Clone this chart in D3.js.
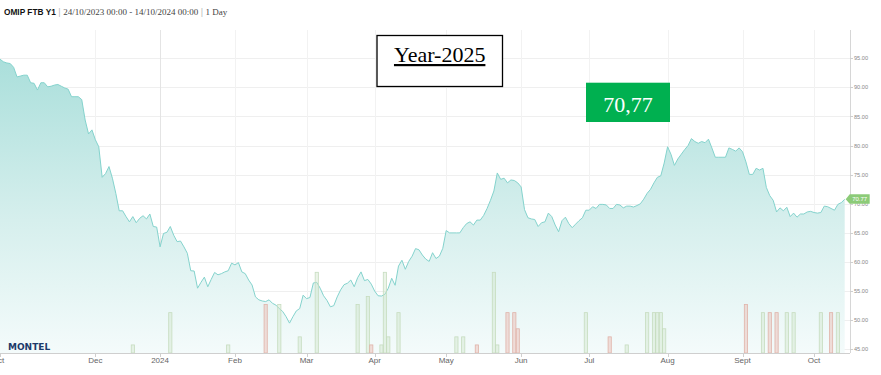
<!DOCTYPE html>
<html><head><meta charset="utf-8">
<script src="https://cdn.jsdelivr.net/npm/d3@7"></script>
<style>
html,body{margin:0;padding:0;background:#fff;}
svg{display:block;}
</style></head>
<body>
<svg id="chart" width="881" height="375"></svg>
<script>
// ---------------- DATA ----------------
const titleBold = "OMIP FTB Y1";
const titleRest = ["24/10/2023 00:00 - 14/10/2024 00:00", "1 Day"];
const startDate = "2023-10-24";
const endDate = "2024-10-14";
const holidays = ["2023-12-25","2023-12-26","2024-01-01","2024-03-29","2024-04-25","2024-05-01"];

// daily settlement prices, one per trading day
const prices = [
 94.85,94.4,94.2,94.1,93.45,91.8,91.95,92.1,92.1,90.8,
 90.7,89.55,90.8,90.8,90.1,90.2,90.4,90.5,90.2,89.9,
 89.7,88.4,88.4,88.4,87.9,84.4,82.0,82.7,81.0,79.8,
 74.55,75.2,76.4,74.4,71.8,68.8,68.8,67.8,66.9,67.8,
 66.75,67.5,67.95,67.4,68.25,66.1,66.0,62.6,64.9,65.1,
 66.1,64.6,63.5,63.6,62.6,61.5,58.5,58.45,55.5,56.5,
 57.4,55.75,57.0,58.2,57.8,58.0,58.3,58.5,59.8,59.5,
 59.9,58.3,58.0,56.9,56.05,54.0,53.5,53.3,53.2,53.5,
 52.9,52.6,52.0,51.5,50.6,49.5,50.6,51.6,52.0,54.3,
 53.7,53.9,56.4,56.5,55.5,54.2,53.4,52.3,52.5,54.0,
 55.2,56.1,56.35,56.9,55.75,57.3,58.3,56.8,57.0,56.2,
 55.0,54.2,54.15,54.45,55.5,57.2,56.0,59.3,60.3,58.75,
 60.1,61.0,62.3,62.1,61.2,60.5,60.1,61.6,60.6,61.0,
 62.35,65.4,65.0,65.0,65.0,65.0,65.9,66.6,66.9,66.35,
 67.2,67.2,68.0,69.2,70.6,72.2,75.3,74.2,74.4,73.6,
 74.1,74.0,73.6,72.9,69.0,67.6,67.4,67.3,66.1,66.75,
 66.9,68.4,67.8,66.35,65.2,67.1,67.7,66.6,65.9,66.5,
 67.1,67.6,68.9,68.9,69.5,69.2,69.9,69.9,69.8,69.2,
 69.2,69.9,69.8,69.3,69.6,69.6,69.45,69.7,70.0,70.8,
 71.8,72.5,73.6,74.55,74.8,77.0,79.8,78.5,76.6,77.7,
 78.5,79.3,80.0,81.2,80.7,80.4,80.7,80.5,81.1,79.6,
 78.0,78.0,78.0,78.0,79.6,79.35,79.05,79.6,78.95,77.2,
 75.05,75.05,76.1,75.8,76.1,72.8,71.4,70.6,68.6,69.3,
 68.8,69.4,67.8,68.4,67.7,68.25,68.25,68.6,68.7,68.5,
 68.4,68.5,69.6,69.5,69.2,68.9,69.9,70.2,70.77
];

// traded volume bars
const volDates = ["2023-12-18","2024-01-05","2024-01-30","2024-02-14","2024-02-20","2024-02-28","2024-03-06",
 "2024-03-22","2024-03-27","2024-03-28","2024-04-03","2024-04-04","2024-04-05","2024-04-10",
 "2024-05-07","2024-05-09","2024-05-15","2024-05-22","2024-05-23","2024-05-28","2024-05-30","2024-05-31",
 "2024-06-28","2024-07-09","2024-07-16","2024-07-24","2024-07-26","2024-07-29","2024-07-30","2024-07-31",
 "2024-09-03","2024-09-10","2024-09-12","2024-09-16","2024-09-19","2024-09-23","2024-10-03","2024-10-08","2024-10-10"];
const volValues = [1,5,1,6,6,2,10, 6,7,1,1,10,2,5, 2,2,1,10,1,5,5,3, 5,2,1,5,5,5,5,3, 6,5,5,5,5,5,5,5,5];
const volSide = ["up","up","up","down","up","up","up", "up","up","down","up","up","up","up",
 "up","up","down","up","up","down","down","down", "up","down","up","up","up","up","up","up",
 "down","up","down","down","up","up","up","down","up"];

const yTicks = [45,50,55,60,65,70,75,80,85,90,95];
const monthTickDates = ["2023-10-24","2023-12-01","2024-01-02","2024-02-01","2024-03-01","2024-04-01",
 "2024-05-02","2024-06-03","2024-07-01","2024-08-01","2024-09-02","2024-10-01"];
const monthTickLabels = ["Oct","Dec","2024","Feb","Mar","Apr","May","Jun","Jul","Aug","Sept","Oct"];

const yearBoxText = "Year-2025";
const lastValueText = "70,77";
const lastFlagText = "70.77";
const logoText = "MONTEL";

// ---------------- BUILD ----------------
const fmt = d3.utcFormat("%Y-%m-%d");
const parse = d3.utcParse("%Y-%m-%d");
const hol = new Set(holidays);
const tradingDays = d3.utcDay.range(parse(startDate), d3.utcDay.offset(parse(endDate), 1))
  .filter(d => d.getUTCDay() !== 0 && d.getUTCDay() !== 6 && !hol.has(fmt(d)))
  .map(fmt);
const dayIndex = new Map(tradingDays.map((d, i) => [d, i]));
const n = Math.min(tradingDays.length, prices.length);
const series = d3.range(n).map(i => ({date: tradingDays[i], i, v: prices[i]}));

const plot = {left: 0, right: 850, top: 30, bottom: 353};

const x = d3.scaleLinear().domain([0, tradingDays.length - 1]).range([0, 844.7]);
const y = d3.scaleLinear().domain([45, 95]).range([349.3, 58.3]);
const yv = d3.scaleLinear().domain([0, 40]).range([plot.bottom, 30.2]);

const svg = d3.select("#chart");
const defs = svg.append("defs");
const grad = defs.append("linearGradient").attr("id", "areaGrad")
  .attr("gradientUnits", "userSpaceOnUse").attr("x1", 0).attr("x2", 0)
  .attr("y1", y(95)).attr("y2", plot.bottom);
grad.append("stop").attr("offset", 0).attr("stop-color", "#aadfdb");
grad.append("stop").attr("offset", 0.55).attr("stop-color", "#d6efed");
grad.append("stop").attr("offset", 1).attr("stop-color", "#f4fbfb");

// horizontal grid
svg.append("g").selectAll("line").data(yTicks).join("line")
  .attr("x1", plot.left).attr("x2", plot.right)
  .attr("y1", d => Math.round(y(d)) + 0.5).attr("y2", d => Math.round(y(d)) + 0.5)
  .attr("stroke", "#efefef").attr("stroke-width", 1);

// vertical grid
svg.append("g").selectAll("line").data(monthTickDates.slice(1)).join("line")
  .attr("x1", d => Math.round(x(dayIndex.get(d))) + 0.5)
  .attr("x2", d => Math.round(x(dayIndex.get(d))) + 0.5)
  .attr("y1", plot.top).attr("y2", plot.bottom)
  .attr("stroke", (d, i) => monthTickLabels[i + 1] === "2024" ? "#e4e4e4" : "#f2f2f2")
  .attr("stroke-width", 1);

// area + line
const area = d3.area().x(d => x(d.i)).y0(plot.bottom).y1(d => y(d.v));
const line = d3.line().x(d => x(d.i)).y(d => y(d.v));
svg.append("path").datum(series).attr("d", area).attr("fill", "url(#areaGrad)");
svg.append("path").datum(series).attr("d", line)
  .attr("fill", "none").attr("stroke", "#84d3cd").attr("stroke-width", 1);

// volume bars
const bw = 3.2;
svg.append("g").selectAll("rect").data(volDates.map((d, k) => ({d, v: volValues[k], s: volSide[k]})))
  .join("rect")
  .attr("x", d => x(dayIndex.get(d.d)) - bw / 2)
  .attr("y", d => yv(d.v))
  .attr("width", bw)
  .attr("height", d => plot.bottom - yv(d.v))
  .attr("fill", d => d.s === "up" ? "rgba(205,228,198,0.4)" : "rgba(235,185,175,0.45)")
  .attr("stroke", d => d.s === "up" ? "#c6dcbf" : "#e0b3a9")
  .attr("stroke-width", 0.8);

// x axis line + ticks + labels
svg.append("line").attr("x1", plot.left).attr("x2", plot.right)
  .attr("y1", plot.bottom + 0.5).attr("y2", plot.bottom + 0.5)
  .attr("stroke", "#cfcfcf").attr("stroke-width", 1);
const xt = svg.append("g");
xt.selectAll("line").data(monthTickDates).join("line")
  .attr("x1", d => Math.round(x(dayIndex.get(d))) + 0.5)
  .attr("x2", d => Math.round(x(dayIndex.get(d))) + 0.5)
  .attr("y1", plot.bottom).attr("y2", plot.bottom + 4)
  .attr("stroke", "#cfcfcf");
xt.selectAll("text").data(monthTickDates).join("text")
  .attr("x", (d, i) => i === 0 ? x(dayIndex.get(d)) - 2 : x(dayIndex.get(d)))
  .attr("y", 363.3)
  .attr("text-anchor", "middle")
  .attr("font-family", "Liberation Sans, Arial, sans-serif")
  .attr("font-size", 8).attr("fill", "#666")
  .text((d, i) => monthTickLabels[i]);

// y axis
svg.append("line").attr("x1", plot.right + 0.5).attr("x2", plot.right + 0.5)
  .attr("y1", plot.top).attr("y2", plot.bottom)
  .attr("stroke", "#d6d6d6");
const yt = svg.append("g");
yt.selectAll("line").data(yTicks).join("line")
  .attr("x1", plot.right).attr("x2", plot.right + 3)
  .attr("y1", d => Math.round(y(d)) + 0.5).attr("y2", d => Math.round(y(d)) + 0.5)
  .attr("stroke", "#cfcfcf");
yt.selectAll("text").data(yTicks).join("text")
  .attr("x", plot.right + 4).attr("y", d => y(d) + 2)
  .attr("font-family", "Liberation Sans, Arial, sans-serif")
  .attr("font-size", 5.6).attr("fill", "#888")
  .text(d => d3.format(".2f")(d));

// last value flag
const last = series[series.length - 1];
const lx = x(last.i), ly = y(last.v);
const flag = svg.append("g");
flag.append("path")
  .attr("d", `M${lx + 1},${ly} L${lx + 5},${ly - 5} L${lx + 25},${ly - 5} L${lx + 25},${ly + 4.5} L${lx + 5},${ly + 4.5} Z`)
  .attr("fill", "#8ccb78");
flag.append("text").attr("x", lx + 15).attr("y", ly + 2)
  .attr("text-anchor", "middle")
  .attr("font-family", "Liberation Sans, Arial, sans-serif")
  .attr("font-size", 6).attr("fill", "#fff")
  .text(lastFlagText);

// title
const t = svg.append("text").attr("x", 4).attr("y", 15)
  .attr("font-size", 9).attr("fill", "#333");
t.append("tspan").attr("font-family", "Liberation Sans, Arial, sans-serif")
  .attr("font-weight", "bold").attr("font-size", 8.3).attr("fill", "#111").text(titleBold);
t.append("tspan").attr("font-family", "Liberation Sans, sans-serif").attr("fill", "#bbb").text(" | ");
t.append("tspan").attr("font-family", "Liberation Serif, Georgia, serif").attr("fill", "#444").text(titleRest[0]);
t.append("tspan").attr("font-family", "Liberation Sans, sans-serif").attr("fill", "#bbb").text(" | ");
t.append("tspan").attr("font-family", "Liberation Serif, Georgia, serif").attr("fill", "#444").text(titleRest[1]);

// logo
svg.append("text").attr("x", 8).attr("y", 350)
  .attr("font-family", "DejaVu Sans, sans-serif").attr("font-weight", "bold")
  .attr("font-size", 9).attr("fill", "#1d3a6a")
  .text(logoText);

// Year box
svg.append("rect").attr("x", 377).attr("y", 35.5).attr("width", 125.5).attr("height", 51)
  .attr("fill", "#fff").attr("stroke", "#000").attr("stroke-width", 1.3);
svg.append("text").attr("x", 439.7).attr("y", 62)
  .attr("text-anchor", "middle")
  .attr("font-family", "Liberation Serif, 'Times New Roman', serif")
  .attr("font-size", 22).attr("fill", "#000")
  .attr("text-decoration", "underline")
  .text(yearBoxText);

// value box
svg.append("rect").attr("x", 586).attr("y", 82.7).attr("width", 84).attr("height", 39.3)
  .attr("fill", "#00b050");
svg.append("text").attr("x", 628).attr("y", 112)
  .attr("text-anchor", "middle")
  .attr("font-family", "Liberation Serif, 'Times New Roman', serif")
  .attr("font-size", 22).attr("fill", "#fff")
  .text(lastValueText);
</script>
</body></html>
